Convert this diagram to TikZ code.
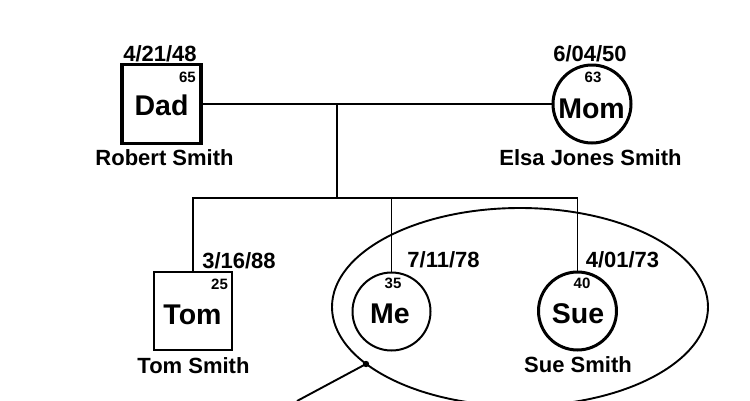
\documentclass[tikz,border=0pt]{standalone}
\usepackage{fontspec}
\setmainfont{Liberation Sans}
\begin{document}
\begin{tikzpicture}[x=1pt,y=-1pt,
  conn/.style={line width=1.9pt},
  thickbox/.style={draw,line width=3.2pt,minimum size=79pt,inner sep=0pt},
  thickcirc/.style={draw,circle,line width=3pt,minimum size=78pt,inner sep=0pt},
  thincirc/.style={draw,circle,line width=2pt,minimum size=78pt,inner sep=0pt},
  txt/.style={inner sep=0pt,anchor=base,font=\bfseries\fontsize{22}{24}\selectfont},
  big/.style={inner sep=0pt,anchor=base,font=\bfseries\fontsize{28.5}{30}\selectfont},
  small/.style={inner sep=0pt,anchor=base,font=\bfseries\fontsize{15}{17}\selectfont}]
\useasboundingbox (0,0) rectangle (750,400);
% shapes
\node[thickbox] (dad) at (161.5,104) {};
\node[thickcirc] (mom) at (592,104) {};
\node[thickbox,line width=2.6pt,minimum size=78pt] (tom) at (193,311) {};
\node[thincirc] (me) at (391.5,311.5) {};
\node[thickcirc] (sue) at (577.5,311) {};
% connectors
\coordinate (j1) at (337,104);
\coordinate (bar) at (337,198);
\draw[conn] (dad) -- (mom);
\draw[conn] (j1) -- (bar);
\draw[conn] (tom.north) -- (tom.north |- bar) -- (sue.north |- bar) -- (sue.north);
\draw[conn] (me.north) -- (me.north |- bar);
% ellipse with pointer
\draw[line width=1.9pt] (520,307) ellipse [x radius=188pt, y radius=99pt];
\coordinate (dot) at (366,364);
\coordinate (tail) at (297,401);
\fill (dot) circle (3.2pt);
\draw[line width=1.9pt] (dot) -- (tail);
% texts: Dad
\node[txt] (dadd) at (160,61) {4/21/48};
\node[big] (dadn) at (161.5,115) {Dad};
\node[small] (dada) at (187.5,82) {65};
\node[txt] (dadf) at (164.5,165) {Robert Smith};
% Mom
\node[txt] (momd) at (590,61) {6/04/50};
\node[big] (momn) at (591.5,118) {Mom};
\node[small] (moma) at (593,82) {63};
\node[txt] (momf) at (590.5,165) {Elsa Jones Smith};
% Tom
\node[txt] (tomd) at (239,268) {3/16/88};
\node[big] (tomn) at (192.5,324) {Tom};
\node[small] (toma) at (219.5,289) {25};
\node[txt] (tomf) at (193.5,373) {Tom Smith};
% Me
\node[txt] (med) at (443.5,267) {7/11/78};
\node[big] (men) at (390,323) {Me};
\node[small] (mea) at (393,288) {35};
% Sue
\node[txt] (sued) at (622.5,267) {4/01/73};
\node[big] (suen) at (578,323) {Sue};
\node[small] (suea) at (582,288) {40};
\node[txt] (suef) at (578,372) {Sue Smith};
\end{tikzpicture}
\end{document}
